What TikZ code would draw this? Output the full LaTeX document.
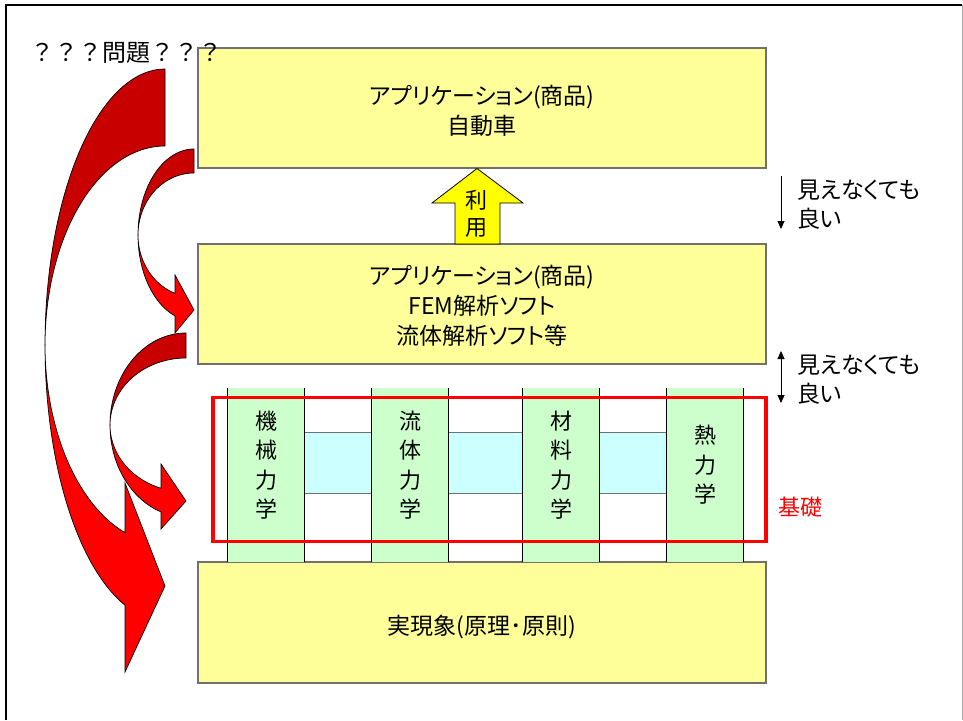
\documentclass[tikz,border=0pt]{standalone}
\usepackage{fontspec}
\setmainfont{Noto Sans CJK JP}[RawFeature=+palt]
\newfontfamily\jpfw{Noto Sans CJK JP}
\usetikzlibrary{arrows.meta}
\definecolor{boxyellow}{HTML}{FFFF99}
\definecolor{boxedge}{HTML}{707070}
\definecolor{colgreen}{HTML}{CCFFCC}
\definecolor{bridgecyan}{HTML}{CCFFFF}
\definecolor{arrowyellow}{HTML}{FFFF00}
\definecolor{darkred}{HTML}{C80000}
\definecolor{brightred}{HTML}{FF0000}
\tikzset{
  ybox/.style={draw=boxedge, line width=1.2pt, fill=boxyellow, minimum width=568pt, inner sep=0pt},
  boxtext/.style={align=center, inner sep=0pt, font=\fontsize{23}{30}\selectfont},
  colbox/.style={fill=colgreen, draw=none, minimum width=76pt, minimum height=174pt, inner sep=0pt},
  coltext/.style={align=center, inner sep=0pt, font=\fontsize{22}{29.5}\selectfont},
  bridge/.style={fill=bridgecyan, draw=none, minimum height=60pt, inner sep=0pt},
  backarrow/.style={fill=darkred, draw=black, line width=0.7pt},
  frontarrow/.style={fill=brightred, draw=black, line width=0.7pt},
  note/.style={align=left, inner sep=0pt, anchor=west, font=\fontsize{23}{29}\selectfont},
  thinarrow/.style={line width=0.9pt, -{Triangle[length=8pt,width=7pt]}},
  thinarrows/.style={line width=0.9pt, {Triangle[length=8pt,width=7pt]}-{Triangle[length=8pt,width=7pt]}},
}
\begin{document}
\begin{tikzpicture}[x=1pt,y=-1pt]
\useasboundingbox (0,0) rectangle (963,720);
% frame
\draw[line width=2.6pt] (6,720) -- (6,5) -- (962,5);
\draw[gray!70, line width=0.8pt] (962,5) -- (962,720);

% yellow boxes
\node[ybox, minimum height=120pt] (top) at (482,108) {};
\node[ybox, minimum height=120pt] (mid) at (482,304) {};
\node[ybox, minimum height=121pt] (base) at (482,622.5) {};
\node[boxtext] (toptext) at (482,111) {アプリケーション(商品)\\自動車};
\node[boxtext] (midtext) at (482,306) {アプリケーション(商品)\\FEM解析ソフト\\流体解析ソフト等};
\node[boxtext] (basetext) at (482,627) {実現象(原理･原則)};

% cyan bridges
\node[bridge, minimum width=68pt] (b1) at (338,463) {};
\node[bridge, minimum width=75pt] (b2) at (485.5,463) {};
\node[bridge, minimum width=68pt] (b3) at (633,463) {};
\foreach \b in {b1,b2,b3}{
  \draw[boxedge, line width=0.8pt] (\b.north west) -- (\b.north east) (\b.south west) -- (\b.south east);
}

% green columns
\node[colbox] (c1) at (266,475) {};
\node[colbox] (c2) at (410,475) {};
\node[colbox] (c3) at (561,475) {};
\node[colbox] (c4) at (705,475) {};
\foreach \c in {c1,c2,c3,c4}{
  \draw[black, line width=0.8pt] (\c.north west) -- (\c.south west) (\c.north east) -- (\c.south east);
}
\node[coltext] (c1t) at (266,465) {機\\械\\力\\学};
\node[coltext] (c2t) at (410,465) {流\\体\\力\\学};
\node[coltext] (c3t) at (561,465) {材\\料\\力\\学};
\node[coltext] (c4t) at (705,465) {熱\\力\\学};

% red foundation frame
\draw[brightred, line width=3.5pt] (213,397.5) rectangle (766,541.5);
\node[text=brightred, inner sep=0pt, font=\fontsize{22}{26}\selectfont] (kiso) at (800,507) {基礎};

% up arrow
\draw[fill=arrowyellow, line width=0.8pt] (455,244) -- (455,203) -- (432,203) -- (477,168.5) -- (523,203) -- (500,203) -- (500,244) -- cycle;
\node[coltext, font=\fontsize{22}{27}\selectfont] (riyou) at (476,214) {利\\用};

% right annotations
\coordinate (a1s) at (781,176);
\coordinate (a1e) at (781,229);
\draw[thinarrow] (a1s) -- (a1e);
\node[note] (n1) at (797,205) {見えなくても\\良い};
\coordinate (a2s) at (781,351);
\coordinate (a2e) at (781,403);
\draw[thinarrows] (a2s) -- (a2e);
\node[note] (n2) at (797,380) {見えなくても\\良い};

% curved arrow 1 (large)
\filldraw[backarrow] plot[domain=270:180, samples=50] ({165+120*cos(\x)}, {345+276*sin(\x)})
  -- plot[domain=180:270, samples=50] ({165+120*cos(\x)}, {345+199*sin(\x)}) -- cycle;
\filldraw[frontarrow] plot[domain=180:109.47, samples=50] ({165+120*cos(\x)}, {345+276*sin(\x)})
  -- (125,672) -- (165,586) -- (125,483)
  -- plot[domain=109.47:180, samples=50] ({165+120*cos(\x)}, {345+199*sin(\x)}) -- cycle;

% curved arrow 2
\filldraw[backarrow] plot[domain=270:180, samples=40] ({194+56*cos(\x)}, {235+86*sin(\x)})
  -- plot[domain=180:270, samples=40] ({194+56*cos(\x)}, {235+62*sin(\x)}) -- cycle;
\filldraw[frontarrow] plot[domain=180:109.83, samples=40] ({194+56*cos(\x)}, {235+86*sin(\x)})
  -- (175,333) -- (194,310) -- (175,275)
  -- plot[domain=109.83:180, samples=40] ({194+56*cos(\x)}, {235+62*sin(\x)}) -- cycle;

% curved arrow 3
\filldraw[backarrow] plot[domain=270:180, samples=40] ({186+76*cos(\x)}, {425+92*sin(\x)})
  -- plot[domain=180:270, samples=40] ({186+76*cos(\x)}, {425+67*sin(\x)}) -- cycle;
\filldraw[frontarrow] plot[domain=180:109.2, samples=40] ({186+76*cos(\x)}, {425+92*sin(\x)})
  -- (161,529) -- (186,501) -- (161,464)
  -- plot[domain=109.2:180, samples=40] ({186+76*cos(\x)}, {425+67*sin(\x)}) -- cycle;

% question label
\node[inner sep=0pt, font=\jpfw\fontsize{24}{28}\selectfont] (question) at (126,53) {？？？問題？？？};
\end{tikzpicture}
\end{document}
